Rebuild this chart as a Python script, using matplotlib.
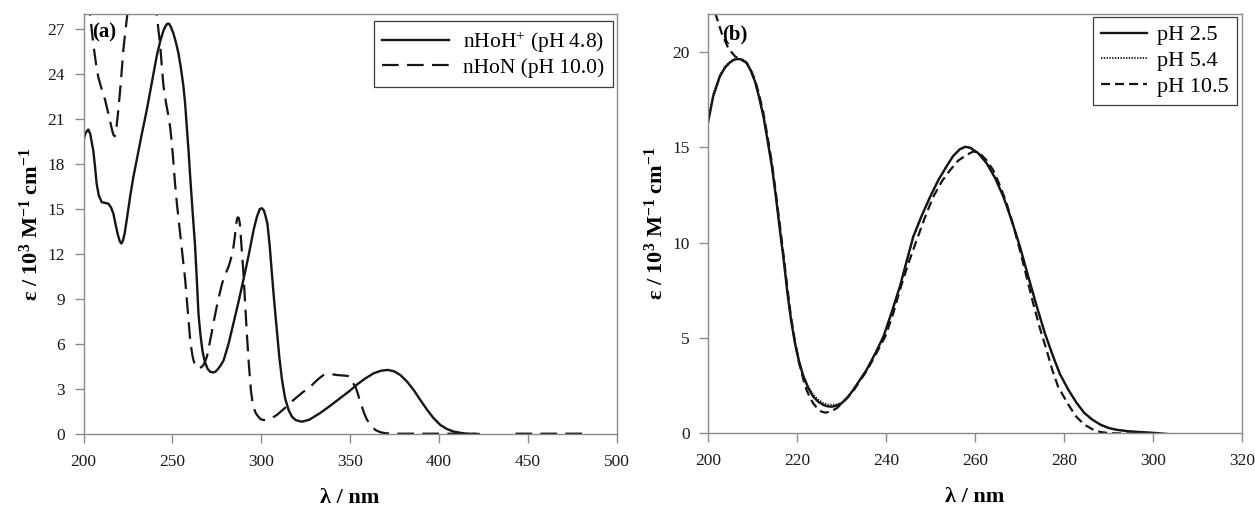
import numpy as np
import matplotlib
matplotlib.use('Agg')
import matplotlib.pyplot as plt

# ---------------- data ----------------
# Panel (a): nHoH+ (pH 4.8)
lam_a_cat = [200.0, 201.3, 202.7, 203.8, 204.7, 205.5, 206.5, 207.4, 208.6, 210.3,
             212.5, 214.0, 215.5, 216.8, 218.0, 219.3, 220.4, 221.3, 222.2, 223.2,
             224.6, 226.2, 228.0, 230.0, 232.8, 235.6, 238.4, 241.2, 243.2, 245.0,
             246.2, 247.2, 248.2, 249.3, 250.6, 252.0, 253.4, 254.8, 256.2, 257.2,
             258.1, 259.1, 260.0, 261.4, 262.8, 263.8, 264.7, 265.8, 267.0, 268.3,
             269.8, 271.3, 272.8, 274.2, 275.8, 277.3, 278.8, 281.6, 284.4, 287.2,
             290.0, 292.9, 295.7, 297.6, 299.2, 300.4, 301.5, 302.5, 303.5, 304.8,
             306.0, 307.4, 308.8, 310.2, 311.7, 313.4, 315.4, 317.3, 319.5, 322.9,
             327.0, 333.2, 339.0, 344.5, 349.5, 353.9, 358.5, 363.3, 367.5, 371.2,
             374.8, 378.3, 382.0, 385.8, 389.6, 393.4, 397.0, 400.8, 404.5, 408.3,
             414.0, 419.6, 422.3]
eps_a_cat = [19.6, 20.1, 20.3, 20.0, 19.4, 18.9, 17.8, 16.7, 15.9, 15.45,
             15.4, 15.35, 15.1, 14.7, 14.0, 13.3, 12.85, 12.7, 12.9, 13.4,
             14.5, 15.8, 17.1, 18.3, 20.0, 21.6, 23.4, 25.2, 26.2, 26.9,
             27.2, 27.35, 27.35, 27.1, 26.7, 26.1, 25.4, 24.4, 23.2, 22.0,
             20.5, 18.9, 17.2, 14.8, 12.5, 10.2, 8.0, 6.6, 5.5, 4.8,
             4.35, 4.15, 4.1, 4.15, 4.35, 4.6, 4.9, 6.0, 7.4, 8.8,
             10.3, 11.9, 13.6, 14.5, 15.0, 15.05, 14.9, 14.5, 14.0, 12.5,
             10.7, 8.7, 6.9, 5.1, 3.6, 2.4, 1.6, 1.15, 0.92, 0.82,
             0.95, 1.4, 1.9, 2.4, 2.85, 3.3, 3.7, 4.05, 4.22, 4.27,
             4.18, 3.93, 3.5, 2.93, 2.25, 1.6, 1.05, 0.6, 0.33, 0.16,
             0.04, 0.0, 0.0]

# Panel (a): nHoN (pH 10.0) -- runs off the top of the axes; breaks are NaN
lam_a_neu = [202.8, 203.7, 204.6, 205.5, 206.9, 208.3, 210.2, 212.1, 213.5, 214.9,
             216.0, 216.8, 217.6, 218.0, 218.7, 219.6, 220.6, 221.5, 222.4, 223.5,
             224.7, 225.6, np.nan,
             240.5, 241.2, 242.1, 243.1, 244.0, 245.0, 246.4, 247.8, 248.8, 249.7,
             250.6, 251.5, 252.6, 253.8, 255.5, 257.2, 258.7, 260.0, 260.8, 261.5,
             262.2, 262.8, 263.5, 264.2, 265.0, 265.6, 266.5, 267.5, 268.5, 269.4,
             270.3, 271.2, 272.2, 273.1, 274.3, 275.5, 276.7, 277.9, 279.0, 280.0,
             281.6, 282.5, 283.2, 284.4, 285.2, 285.8, 286.3, 286.8, 287.4, 288.0,
             288.5, 289.1, 290.0, 291.0, 291.9, 293.0, 294.2, 295.0, 295.8, 296.7,
             297.6, 299.5, 301.3, 303.0, 304.5, 306.5, 308.8, 313.5, 318.2, 323.0,
             327.6, 331.5, 333.5, 335.1, 336.8, 338.5, 340.5, 342.6, 346.0, 348.0,
             349.2, 350.3, 351.2, 352.1, 353.0, 354.2, 355.4, 356.7, 358.0, 359.5,
             361.4, 363.0, 364.5, 367.0, 370.0, 375.0, 385.0, 400.0, 412.0, 421.0,
             np.nan, 443.0, 455.0, 470.0, 482.0]
eps_a_neu = [29.5, 28.0, 27.0, 26.0, 24.8, 23.8, 23.0, 22.3, 21.6, 20.9,
             20.3, 19.95, 19.85, 19.95, 20.6, 21.6, 22.9, 24.2, 25.6, 26.8,
             28.0, 29.5, np.nan,
             29.5, 28.0, 27.0, 26.0, 24.6, 23.2, 22.1, 21.2, 20.4, 19.4,
             18.1, 16.7, 15.3, 14.0, 12.1, 10.3, 8.2, 6.3, 5.6, 5.1,
             4.8, 4.6, 4.45, 4.4, 4.38, 4.4, 4.48, 4.6, 4.85, 5.15,
             5.6, 6.2, 6.8, 7.4, 8.1, 8.8, 9.4, 10.0, 10.4, 10.7,
             11.15, 11.5, 11.8, 12.5, 13.2, 13.9, 14.3, 14.45, 14.4, 14.0,
             13.2, 12.3, 10.7, 8.6, 6.7, 4.7, 2.9, 2.2, 1.75, 1.45,
             1.27, 1.0, 0.93, 0.95, 1.0, 1.1, 1.27, 1.75, 2.27, 2.75,
             3.15, 3.6, 3.8, 3.93, 4.0, 4.0, 3.97, 3.93, 3.9, 3.88,
             3.85, 3.75, 3.55, 3.3, 3.15, 2.75, 2.25, 1.8, 1.35, 0.95,
             0.65, 0.4, 0.25, 0.12, 0.05, 0.02, 0.02, 0.02, 0.02, 0.02,
             np.nan, 0.02, 0.02, 0.02, 0.02]

# Panel (b): pH 2.5
lam_b_25 = [200.0, 201.1, 202.6, 203.8, 204.9, 205.8, 206.7, 207.6, 208.6, 209.5,
            210.5, 211.4, 212.4, 213.3, 214.3, 215.2, 216.1, 217.0, 217.8, 218.6,
            219.5, 220.4, 221.4, 222.5, 223.6, 224.7, 225.9, 226.8, 227.8, 228.9,
            230.0, 231.3, 232.6, 234.0, 235.6, 237.5, 239.4, 241.2, 243.1, 244.6,
            246.1, 248.0, 249.9, 251.8, 253.6, 255.1, 256.6, 257.8, 258.9, 260.7,
            262.6, 264.5, 266.4, 268.2, 270.1, 272.0, 273.9, 275.7, 277.6, 279.1,
            281.0, 282.8, 284.6, 286.4, 288.2, 290.0, 291.8, 294.5, 297.1, 300.7,
            305.2]
eps_b_25 = [16.36, 17.67, 18.72, 19.2, 19.46, 19.6, 19.64, 19.6, 19.43, 19.05,
            18.46, 17.65, 16.62, 15.4, 14.0, 12.4, 10.67, 9.0, 7.34, 5.95,
            4.71, 3.75, 2.96, 2.35, 1.91, 1.65, 1.47, 1.40, 1.38, 1.44,
            1.56, 1.85, 2.26, 2.75, 3.31, 4.15, 5.06, 6.3, 7.69, 9.0,
            10.3, 11.4, 12.4, 13.3, 14.0, 14.55, 14.9, 15.03, 14.98, 14.7,
            14.17, 13.4, 12.4, 11.2, 9.79, 8.2, 6.64, 5.25, 4.0, 3.1,
            2.27, 1.6, 1.05, 0.7, 0.44, 0.27, 0.17, 0.09, 0.05, 0.0,
            -0.09]

# Panel (b): pH 5.4
lam_b_54 = [200.0, 201.1, 202.6, 203.8, 204.9, 205.8, 206.7, 207.6, 208.6, 209.5,
            210.5, 211.4, 212.4, 213.3, 214.3, 215.2, 216.1, 217.0, 217.8, 218.6,
            219.5, 220.4, 221.4, 222.5, 223.6, 224.7, 225.9, 226.8, 227.8, 228.9,
            230.0, 231.3, 232.6, 234.0, 235.6, 237.5, 239.4, 241.2, 243.1, 244.6,
            246.1, 248.0, 249.9, 251.8, 253.6, 255.1, 256.6, 257.8, 258.9, 260.7,
            262.6, 264.5, 266.4, 268.2, 270.1, 272.0, 273.9, 275.7, 277.6, 279.1,
            281.0, 282.8, 284.6, 286.4, 288.2, 290.0, 291.8, 294.5, 297.1, 300.7]
eps_b_54 = [16.5, 17.8, 18.8, 19.25, 19.5, 19.62, 19.65, 19.62, 19.45, 19.1,
            18.5, 17.7, 16.7, 15.5, 14.1, 12.5, 10.8, 9.1, 7.45, 6.05,
            4.8, 3.85, 3.05, 2.45, 2.0, 1.75, 1.57, 1.5, 1.48, 1.5,
            1.6, 1.88, 2.27, 2.75, 3.31, 4.15, 5.06, 6.3, 7.69, 9.0,
            10.3, 11.4, 12.4, 13.3, 14.0, 14.55, 14.9, 15.0, 14.98, 14.7,
            14.17, 13.4, 12.4, 11.2, 9.79, 8.2, 6.64, 5.25, 4.0, 3.1,
            2.27, 1.6, 1.05, 0.7, 0.44, 0.27, 0.17, 0.09, 0.05, 0.0]

# Panel (b): pH 10.5
lam_b_105 = [200.0, 201.5, 203.0, 204.5, 206.0, 207.2, 208.6, 209.5, 210.5, 211.4,
             212.4, 213.3, 214.3, 215.2, 216.1, 217.0, 217.8, 218.6, 219.5, 220.4,
             221.4, 222.1, 222.9, 223.6, 224.5, 225.4, 226.3, 227.4, 228.9, 230.0,
             231.1, 232.6, 234.0, 235.6, 237.5, 239.8, 241.5, 243.1, 245.0, 246.9,
             248.7, 250.6, 252.5, 254.4, 256.2, 258.1, 259.6, 261.0, 262.5, 264.1,
             265.6, 267.1, 268.6, 270.1, 271.6, 273.1, 274.6, 276.1, 277.4, 278.7,
             281.0, 282.8, 284.6, 286.4, 288.2, 290.0, 292.0, 295.0, 298.0]
eps_b_105 = [23.6, 22.1, 21.0, 20.2, 19.78, 19.62, 19.45, 19.1, 18.55, 17.8,
             16.8, 15.6, 14.2, 12.6, 10.9, 9.2, 7.6, 6.1, 4.8, 3.7,
             2.8, 2.26, 1.85, 1.56, 1.3, 1.13, 1.07, 1.12, 1.3, 1.55,
             1.82, 2.2, 2.7, 3.25, 4.05, 5.06, 6.2, 7.51, 8.9, 10.14,
             11.3, 12.4, 13.2, 13.8, 14.3, 14.6, 14.78, 14.7, 14.35, 13.8,
             13.0, 12.07, 10.9, 9.6, 8.2, 6.8, 5.5, 4.36, 3.3, 2.43,
             1.49, 0.85, 0.44, 0.2, 0.05, 0.0, -0.02, -0.03, -0.04]

labels_a = ['nHoH$^{+}$ (pH 4.8)', 'nHoN (pH 10.0)']
labels_b = ['pH 2.5', 'pH 5.4', 'pH 10.5']
xticks_a = [200, 250, 300, 350, 400, 450, 500]
yticks_a = [0, 3, 6, 9, 12, 15, 18, 21, 24, 27]
xticks_b = [200, 220, 240, 260, 280, 300, 320]
yticks_b = [0, 5, 10, 15, 20]

# ---------------- style ----------------
plt.rcParams['font.family'] = ['Liberation Serif', 'DejaVu Serif']
plt.rcParams['mathtext.fontset'] = 'custom'
plt.rcParams['mathtext.rm'] = 'Liberation Serif'
plt.rcParams['mathtext.it'] = 'Liberation Serif:italic'
plt.rcParams['mathtext.bf'] = 'Liberation Serif:bold'
plt.rcParams['mathtext.default'] = 'regular'
plt.rcParams['lines.scale_dashes'] = False

LINE = '#151515'
SPINE = '#8a8a8a'
W, H = 1255, 507

fig = plt.figure(figsize=(W / 100, H / 100), dpi=100)
axA = fig.add_axes([83.5 / W, 1 - 434 / H, (616.7 - 83.5) / W, 420 / H])
axB = fig.add_axes([708.3 / W, 1 - 433 / H, (1241.7 - 708.3) / W, 419 / H])

ylabel = 'ε / 10$^{3}$ M$^{-1}$ cm$^{-1}$'

for ax in (axA, axB):
    for s in ax.spines.values():
        s.set_color(SPINE)
        s.set_linewidth(1.0)
    ax.tick_params(axis='both', direction='out', length=6.5, width=1.0,
                   color=SPINE, labelsize=12.5, labelcolor='#1a1a1a')
    ax.tick_params(axis='x', pad=8)
    ax.tick_params(axis='y', pad=7)
    ax.tick_params(top=False, right=False)
    ax.set_xlabel('λ / nm', fontsize=16, fontweight='bold', labelpad=13)
    ax.set_ylabel(ylabel, fontsize=16, fontweight='bold', labelpad=3)

# Panel (a)
la, = axA.plot(lam_a_cat, eps_a_cat, color=LINE, lw=1.7, solid_joinstyle='round')
lb, = axA.plot(lam_a_neu, eps_a_neu, color=LINE, lw=1.6, dashes=(12, 6),
               dash_joinstyle='round')
axA.set_xlim(200, 500)
axA.set_ylim(0, 28)
axA.set_xticks(xticks_a)
axA.set_yticks(yticks_a)
axA.text(0.016, 0.957, '(a)', transform=axA.transAxes, fontsize=15,
         fontweight='bold', va='center', ha='left')
legA = axA.legend([la, lb], labels_a, loc='upper right',
                  bbox_to_anchor=(613 / W, 1 - 21 / H), bbox_transform=fig.transFigure,
                  prop={'size': 15.5}, handlelength=3.1, handletextpad=0.65,
                  borderpad=0.4, labelspacing=0.15, borderaxespad=0,
                  frameon=True, fancybox=False, framealpha=1, edgecolor='#3a3a3a')
legA.get_frame().set_linewidth(0.9)

# Panel (b)
l1, = axB.plot(lam_b_25, eps_b_25, color=LINE, lw=1.7, solid_joinstyle='round')
l2, = axB.plot(lam_b_54, eps_b_54, color=LINE, lw=1.3, dashes=(1.0, 1.0))
l3, = axB.plot(lam_b_105, eps_b_105, color=LINE, lw=1.6, dashes=(6.5, 3.6))
axB.set_xlim(200, 320)
axB.set_ylim(0, 22)
axB.set_xticks(xticks_b)
axB.set_yticks(yticks_b)
axB.text(0.025, 0.952, '(b)', transform=axB.transAxes, fontsize=15,
         fontweight='bold', va='center', ha='left')
legB = axB.legend([l1, l2, l3], labels_b, loc='upper right',
                  bbox_to_anchor=(1237 / W, 1 - 17 / H), bbox_transform=fig.transFigure,
                  prop={'size': 16}, handlelength=2.1, handletextpad=0.45,
                  borderpad=0.35, labelspacing=0.24, borderaxespad=0,
                  frameon=True, fancybox=False, framealpha=1, edgecolor='#3a3a3a')
legB.get_frame().set_linewidth(0.9)

fig.savefig('out.png', dpi=100)
